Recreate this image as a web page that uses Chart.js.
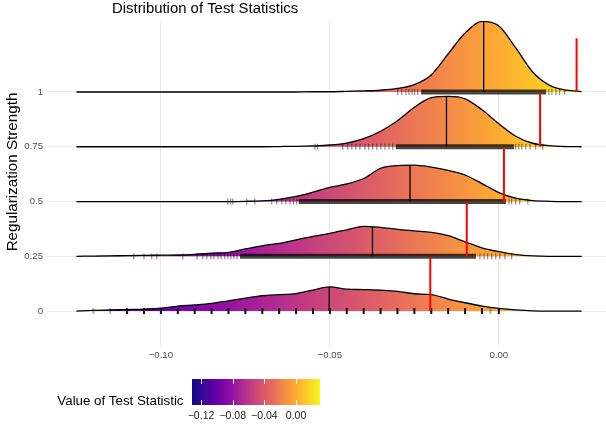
<!DOCTYPE html>
<html><head><meta charset="utf-8">
<script src="https://cdn.jsdelivr.net/npm/chart.js@4.4.1/dist/chart.umd.min.js"></script>
<style>html,body{margin:0;padding:0;background:#fff;}</style>
</head><body>
<canvas id="c" width="606" height="426"></canvas>
<script>
// ---------------- data ----------------
const titleText = 'Distribution of Test Statistics';
const yTitleText = 'Regularization Strength';
const legendTitleText = 'Value of Test Statistic';

const levels = [0, 0.25, 0.5, 0.75, 1];
const levelLabels = ['0', '0.25', '0.5', '0.75', '1'];

const xTicks = [-0.10, -0.05, 0.00];
const xTickLabels = ['\u22120.10', '\u22120.05', '0.00'];

// common x grid of the density estimates
const gridX = [-0.125, -0.12, -0.115, -0.11, -0.105, -0.10, -0.095, -0.09, -0.085, -0.08,
  -0.075, -0.07, -0.065, -0.06, -0.055, -0.05, -0.045, -0.04, -0.035, -0.03,
  -0.025, -0.02, -0.015, -0.01, -0.005, 0, 0.005, 0.01, 0.015, 0.02, 0.0245];

// ridge heights (in y-axis units) per regularization level
const dens0   = [0, .003, .005, .007, .009, .013, .023, .028, .035, .047, .059, .070, .075, .080, .096, .110, .100, .098, .095, .090, .079, .075, .055, .038, .023, .012, .005, .001, 0, 0, 0];
const dens25  = [0, .001, .002, .003, .004, .005, .006, .009, .014, .018, .034, .048, .059, .075, .091, .105, .121, .137, .132, .123, .116, .109, .094, .066, .039, .021, .008, .002, 0, 0, 0];
const dens50  = [0, 0, 0, 0, 0, 0, 0, 0, 0, 0, .001, .003, .010, .023, .043, .065, .080, .105, .151, .164, .166, .157, .142, .121, .082, .041, .015, .004, .001, 0, 0];
const dens75  = [0, 0, 0, 0, 0, 0, 0, 0, 0, 0, 0, 0, .001, .002, .004, .008, .017, .037, .071, .119, .180, .224, .230, .219, .169, .105, .048, .016, .005, .001, 0];
const dens100 = [0, 0, 0, 0, 0, 0, 0, 0, 0, 0, 0, 0, 0, 0, .001, .001, .003, .005, .008, .016, .034, .078, .174, .269, .322, .301, .201, .091, .030, .008, .002];

// medians (black lines) and reference values (red lines)
const medians = [-0.0502, -0.0374, -0.0263, -0.0155, -0.0045];
const refValues = [-0.0203, -0.0095, 0.0015, 0.0122, 0.0230];
const refHeight = 0.245;

// rug: sparse individual values and dense runs per level
const rug25 = [-0.1080, -0.1050, -0.1027, -0.1012, -0.0935, -0.0893, -0.0876, -0.0864, -0.0852, -0.0843, -0.0831, -0.0822, -0.0811, -0.0802, -0.0793, -0.0784, -0.0775, -0.0056, -0.0044, -0.0033, -0.0021, -0.0009, 0.0003, 0.0018, 0.0038];
const rug50 = [-0.0802, -0.0793, -0.0787, -0.0746, -0.0722, -0.0672, -0.0657, -0.0642, -0.0630, -0.0618, -0.0607, -0.0598, 0.0030, 0.0038, 0.0050, 0.0062, 0.0086];
const rug75 = [-0.0544, -0.0536, -0.0462, -0.0447, -0.0435, -0.0423, -0.0411, -0.0396, -0.0385, -0.0373, -0.0361, -0.0349, -0.0337, -0.0325, -0.0314, 0.0050, 0.0059, 0.0068, 0.0080, 0.0092, 0.0109, 0.0130];
const rug100 = [-0.0299, -0.0287, -0.0275, -0.0266, -0.0257, -0.0249, -0.0240, 0.0148, 0.0157, 0.0169, 0.0180, 0.0195];
const rugRuns = [null, [-0.0766, -0.0068], [-0.0592, 0.0021], [-0.0305, 0.0045], [-0.0230, 0.0140]];
// level 0 statistics are discrete
const rug0Values = [-0.12, -0.115, -0.11, -0.105, -0.10, -0.095, -0.09, -0.085, -0.08, -0.075, -0.07, -0.065, -0.06, -0.055, -0.05, -0.045, -0.04, -0.035, -0.03, -0.025, -0.02, -0.015, -0.01, -0.005, -0.0025, 0];
const rug0Counts = [1, 1, 8, 8, 8, 8, 8, 8, 8, 8, 8, 8, 8, 8, 8, 8, 8, 8, 8, 8, 8, 8, 8, 8, 1, 8];

// colour scale
const colorMin = -0.1314, colorMax = 0.0303;
const legendTicks = [-0.12, -0.08, -0.04, 0.00];
const legendTickLabels = ['\u22120.12', '\u22120.08', '\u22120.04', '0.00'];
const plasma = ['#0D0887', '#41049D', '#6A00A8', '#8F0DA4', '#B12A90', '#CC4778', '#E16462', '#F2844B', '#FCA636', '#FCCE25', '#F0F921'];

// ---------------- chart ----------------
const FAM = '"Liberation Sans", Arial, Helvetica, sans-serif';
const densities = [dens0, dens25, dens50, dens75, dens100];
const rugs = [null, rug25, rug50, rug75, rug100];

function densityAt(d, v) {
  for (let k = 0; k < gridX.length - 1; k++) {
    if (v >= gridX[k] && v <= gridX[k + 1]) {
      const t = (v - gridX[k]) / (gridX[k + 1] - gridX[k]);
      return d[k] + t * (d[k + 1] - d[k]);
    }
  }
  return 0;
}

function plasmaGradient(context) {
  const chart = context.chart;
  if (!chart.chartArea) return 'rgba(0,0,0,0)';
  const xs = chart.scales.x;
  const g = chart.ctx.createLinearGradient(xs.getPixelForValue(colorMin), 0, xs.getPixelForValue(colorMax), 0);
  plasma.forEach((c, i) => g.addColorStop(i / (plasma.length - 1), c));
  return g;
}

const datasets = [];
levels.forEach((lv, i) => {
  datasets.push({
    type: 'line', order: 0,
    data: [{x: refValues[i], y: lv}, {x: refValues[i], y: lv + refHeight}],
    borderColor: '#FF0000', borderWidth: 2, pointRadius: 0, fill: false
  });
});
levels.forEach((lv, i) => {
  const d = densities[i];
  datasets.push({
    type: 'line', order: 3 + i * 4,
    data: gridX.map((x, k) => ({x: x, y: lv + d[k]})),
    borderColor: '#000', borderWidth: 1.3, pointRadius: 0,
    cubicInterpolationMode: 'monotone',
    fill: {value: lv}, backgroundColor: plasmaGradient
  });
  datasets.push({
    type: 'line', order: 2 + i * 4,
    data: [{x: medians[i], y: lv}, {x: medians[i], y: lv + densityAt(d, medians[i])}],
    borderColor: '#000', borderWidth: 1.3, pointRadius: 0, fill: false
  });
  if (i === 0) {
    datasets.push({
      type: 'scatter', order: 1 + i * 4,
      data: rug0Values.map(v => ({x: v, y: lv})),
      pointStyle: 'line', rotation: 90, pointRadius: 3,
      borderWidth: 2,
      borderColor: ctx => rug0Counts[ctx.dataIndex] > 1 ? 'rgba(0,0,0,0.95)' : 'rgba(0,0,0,0.3)',
      backgroundColor: 'rgba(0,0,0,0)'
    });
  } else {
    datasets.push({
      type: 'scatter', order: 1 + i * 4,
      data: rugs[i].map(v => ({x: v, y: lv})),
      pointStyle: 'line', rotation: 90, pointRadius: 3,
      borderWidth: 1, borderColor: 'rgba(0,0,0,0.55)', backgroundColor: 'rgba(0,0,0,0)'
    });
    datasets.push({
      type: 'line', order: 1 + i * 4,
      data: [{x: rugRuns[i][0], y: lv}, {x: rugRuns[i][1], y: lv}],
      borderColor: 'rgba(0,0,0,0.72)', borderWidth: 5, borderCapStyle: 'butt',
      pointRadius: 0, fill: false
    });
  }
});

const textPlugin = {
  id: 'texts',
  afterDraw(chart) {
    const c = chart.ctx;
    c.save();
    c.fillStyle = '#000';
    c.textBaseline = 'middle';
    c.textAlign = 'left';
    c.font = '14.9px ' + FAM;
    c.fillText(titleText, 112, 9);
    c.save();
    c.translate(13, 172);
    c.rotate(-Math.PI / 2);
    c.textAlign = 'center';
    c.font = '15.2px ' + FAM;
    c.fillText(yTitleText, 0, 0);
    c.restore();
    // legend
    const L = 192, R = 320, T = 379, B = 405;
    const g = c.createLinearGradient(L, 0, R, 0);
    plasma.forEach((col, i) => g.addColorStop(i / (plasma.length - 1), col));
    c.fillStyle = g;
    c.fillRect(L, T, R - L, B - T);
    c.strokeStyle = '#fff';
    c.lineWidth = 1;
    legendTicks.forEach(v => {
      const px = Math.round(L + (v - colorMin) / (colorMax - colorMin) * (R - L)) + 0.5;
      c.beginPath();
      c.moveTo(px, T); c.lineTo(px, T + 5);
      c.moveTo(px, B - 5); c.lineTo(px, B);
      c.stroke();
    });
    c.fillStyle = '#222';
    c.font = '10.5px ' + FAM;
    c.textAlign = 'center';
    legendTicks.forEach((v, i) => {
      const px = L + (v - colorMin) / (colorMax - colorMin) * (R - L);
      c.fillText(legendTickLabels[i], px, 416);
    });
    c.fillStyle = '#000';
    c.font = '13.3px ' + FAM;
    c.textAlign = 'right';
    c.fillText(legendTitleText, 183.5, 401);
    c.restore();
  }
};

new Chart(document.getElementById('c'), {
  type: 'line',
  data: {datasets: datasets},
  options: {
    responsive: false,
    devicePixelRatio: 1,
    animation: false,
    events: [],
    layout: {autoPadding: false, padding: {top: 21, bottom: 63, left: 0, right: 0}},
    plugins: {legend: {display: false}, tooltip: {enabled: false}, title: {display: false}},
    scales: {
      x: {
        type: 'linear', min: -0.1337, max: 0.0317,
        afterBuildTicks: s => { s.ticks = xTicks.map(v => ({value: v})); },
        afterFit: s => { s.height = 16; },
        ticks: {
          callback: (v) => xTickLabels[xTicks.findIndex(t => Math.abs(t - v) < 1e-9)],
          color: '#4D4D4D', font: {family: FAM, size: 9.6}, padding: 3,
          maxRotation: 0, autoSkip: false
        },
        grid: {color: '#EBEBEB', lineWidth: 1, drawTicks: false},
        border: {display: false}
      },
      y: {
        type: 'linear', min: -0.164, max: 1.324,
        afterBuildTicks: s => { s.ticks = levels.map(v => ({value: v})); },
        afterFit: s => { s.width = 47; },
        ticks: {
          callback: (v) => levelLabels[levels.findIndex(t => Math.abs(t - v) < 1e-9)],
          color: '#4D4D4D', font: {family: FAM, size: 9.6}, padding: 4, autoSkip: false
        },
        grid: {color: '#EBEBEB', lineWidth: 1, drawTicks: false},
        border: {display: false}
      }
    }
  },
  plugins: [textPlugin]
});
</script>
</body></html>
